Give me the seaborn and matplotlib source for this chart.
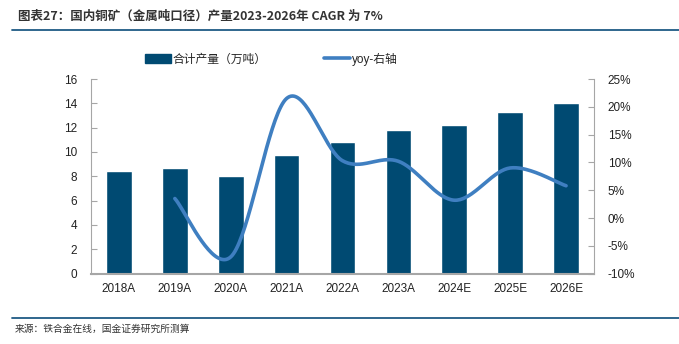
import numpy as np
import pandas as pd
import matplotlib
matplotlib.use("Agg")
import matplotlib.pyplot as plt
import seaborn as sns
from matplotlib.lines import Line2D
from matplotlib.patches import Patch

categories = ["2018A", "2019A", "2020A", "2021A", "2022A", "2023A", "2024E", "2025E", "2026E"]
output = [8.41, 8.68, 8.05, 9.77, 10.79, 11.83, 12.21, 13.30, 14.04]
yoy = [None, 3.5, -7.0, 21.5, 10.3, 10.2, 3.2, 9.0, 5.8]
left_ticks = [0, 2, 4, 6, 8, 10, 12, 14, 16]
right_ticks = [-10, -5, 0, 5, 10, 15, 20, 25]

title = "图表27：国内铜矿（金属吨口径）产量2023-2026年 CAGR 为 7%"
bar_label = "合计产量（万吨）"
line_label = "yoy-右轴"
source = "来源：铁合金在线，国金证券研究所测算"

BAR = "#004a72"
LINE = "#3f7fc1"
GRAY = "#a6a6a6"

sns.set_theme(style="white")
plt.rcParams["font.family"] = ["Liberation Sans", "Noto Sans CJK SC"]

fig = plt.figure(figsize=(6.79, 3.44), dpi=100)
ax = fig.add_axes([91/679, 1-273.6/344, (594-91)/679, (273.6-79)/344])

df = pd.DataFrame({"cat": categories, "val": output})
sns.barplot(data=df, x="cat", y="val", color=BAR, width=0.46, saturation=1, ax=ax)
ax.set_xlim(-0.5, len(categories)-0.5)
ax.set_ylim(0, 16)
ax.set_yticks(left_ticks)
ax.set_xlabel("")
ax.set_ylabel("")
ax.set_xticks(np.arange(len(categories)))
ax.set_xticklabels(categories)
ax.set_xticks(np.arange(len(categories)+1)-0.5, minor=True)
ax.tick_params(axis="x", which="major", length=0, labelsize=8.5, pad=7, colors="#222222")
ax.tick_params(axis="x", which="minor", length=3, direction="in", color=GRAY, width=0.8)
ax.tick_params(axis="y", length=4, direction="in", color=GRAY, width=0.8, labelsize=8.5, pad=10, colors="#222222")
ax.tick_params(axis="y", colors=GRAY, labelcolor="#222222")
for s in ["top", "right"]:
    ax.spines[s].set_visible(False)
ax.spines["left"].set_color(GRAY)
ax.spines["left"].set_linewidth(0.8)
ax.spines["bottom"].set_color(GRAY)
ax.spines["bottom"].set_linewidth(1.5)

ax2 = ax.twinx()
ax2.set_ylim(-10, 25)
ax2.set_yticks(right_ticks)
ax2.set_yticklabels([f"{t}%" for t in right_ticks])
ax2.tick_params(axis="y", length=4, direction="in", color=GRAY, width=0.8, labelsize=8.5, pad=10, labelcolor="#222222")
for s in ["top", "left", "bottom"]:
    ax2.spines[s].set_visible(False)
ax2.spines["right"].set_color(GRAY)
ax2.spines["right"].set_linewidth(0.8)
ax2.grid(False)

# smoothed (Catmull-Rom / Bezier) line through the yoy points
xs = np.array([i for i, v in enumerate(yoy) if v is not None], dtype=float)
ys = np.array([v for v in yoy if v is not None], dtype=float)
P = np.column_stack([xs, ys])
curve = []
n = len(P)
t = np.linspace(0, 1, 40)
for i in range(n-1):
    p0 = P[i-1] if i > 0 else P[i]
    p1 = P[i]
    p2 = P[i+1]
    p3 = P[i+2] if i+2 < n else P[i+1]
    b1 = p1 + (p2 - p0) / 6
    b2 = p2 - (p3 - p1) / 6
    seg = ((1-t)**3)[:, None]*p1 + (3*(1-t)**2*t)[:, None]*b1 + (3*(1-t)*t**2)[:, None]*b2 + (t**3)[:, None]*p2
    curve.append(seg)
curve = np.vstack(curve)
ax2.plot(curve[:, 0], curve[:, 1], color=LINE, lw=2.6, solid_capstyle="round")

# legend
handles = [Patch(facecolor=BAR, edgecolor=BAR), Line2D([0], [0], color=LINE, lw=2.6)]
fig.legend(handles, [bar_label, line_label], ncol=2, loc="center left",
           bbox_to_anchor=(134/679, 1-59/344), frameon=False, fontsize=8.5,
           handlelength=2.2, handleheight=0.8, handletextpad=0.2, columnspacing=4.8)

# title and rules
fig.text(18/679, 1-16/344, title, fontsize=9.0, fontweight="bold", color="#333333",
         va="center", ha="left", family=["Noto Sans CJK SC", "DejaVu Sans"])
fig.add_artist(Line2D([12/679, 1], [1-30/344, 1-30/344], color="#1f5a85", lw=1.3))
fig.add_artist(Line2D([12/679, 1], [1-317.5/344, 1-317.5/344], color="#1f5a85", lw=1.3))
fig.text(15/679, 1-329/344, source, fontsize=7, color="#333333", va="center", ha="left",
         family=["Noto Sans CJK SC", "DejaVu Sans"])

fig.savefig("out.png", dpi=100)
